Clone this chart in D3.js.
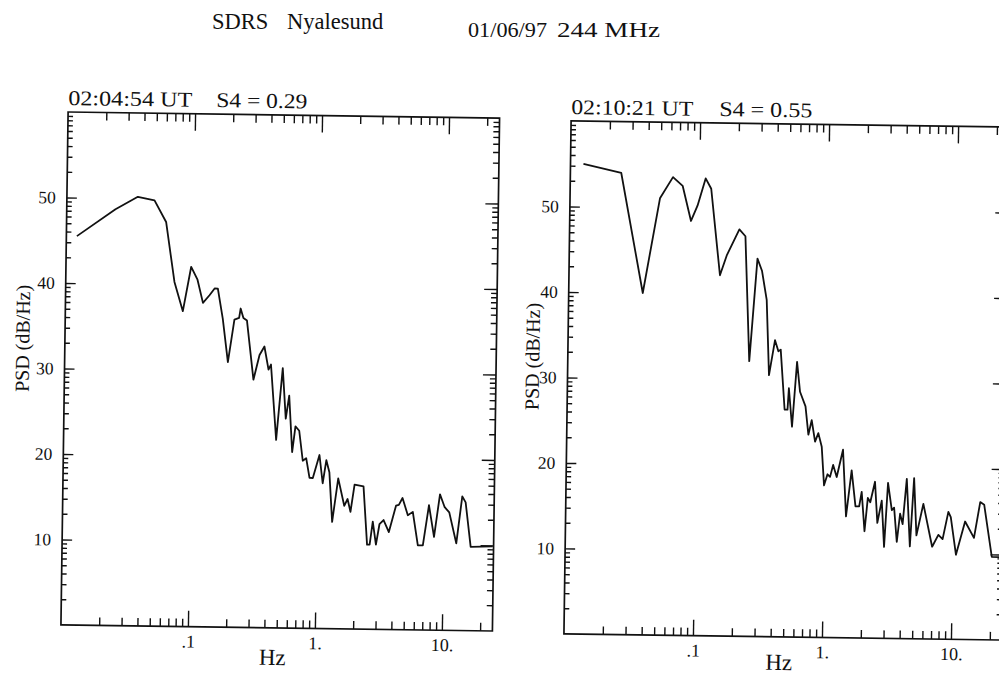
<!DOCTYPE html>
<html><head><meta charset="utf-8">
<script src="https://cdn.jsdelivr.net/npm/d3@7"></script>
<style>
html,body{margin:0;padding:0;background:#fff;}
svg{display:block;}
text{font-family:"Liberation Serif","DejaVu Serif",serif;fill:#111;}
</style></head><body>
<svg id="chart" width="999" height="674"></svg>
<script>
// ---------- data ----------
const leftFreq = [0.0121,0.0242,0.0362,0.049,0.0608,0.0718,0.0842,0.0969,0.109,0.121,0.136,0.149,0.158,0.174,0.193,0.215,0.234,0.240,0.253,0.270,0.308,0.342,0.373,0.404,0.422,0.472,0.523,0.559,0.592,0.633,0.668,0.716,0.769,0.818,0.873,0.927,1.04,1.11,1.18,1.25,1.33,1.47,1.65,1.75,1.85,1.98,2.33,2.52,2.64,2.78,2.96,3.14,3.38,3.73,4.22,4.44,4.74,5.24,5.73,6.33,6.93,7.67,8.47,9.34,10.2,11.1,12.7,14.0,14.9,16.5,24.5];
const leftPsd = [45.5,48.7,50.2,49.8,47.3,40.3,36.9,42.1,40.6,37.9,38.8,39.6,39.6,36.1,31.0,36.0,36.2,37.3,36.2,35.9,29.0,31.9,32.9,30.2,30.8,22.0,30.4,24.5,27.2,20.6,23.6,23.1,19.6,19.9,17.6,17.6,20.3,17.0,19.7,18.3,12.5,17.6,14.4,15.2,13.7,16.9,16.7,9.9,9.9,12.6,9.9,12.3,12.8,11.4,14.5,14.6,15.4,13.4,13.8,9.9,9.9,14.6,10.9,15.9,14.4,13.8,10.2,15.7,15.0,9.8,9.9];
const rightFreq = [0.0126,0.0248,0.0375,0.0498,0.0625,0.0744,0.0871,0.0975,0.112,0.124,0.148,0.167,0.207,0.231,0.255,0.288,0.313,0.343,0.364,0.402,0.428,0.446,0.485,0.511,0.521,0.556,0.599,0.636,0.704,0.746,0.789,0.842,0.891,0.950,0.999,1.06,1.11,1.17,1.25,1.39,1.49,1.63,1.76,1.88,1.96,2.08,2.19,2.29,2.48,2.61,2.81,2.96,3.13,3.37,3.51,3.71,3.91,4.10,4.37,4.69,4.98,5.26,5.91,6.98,7.78,8.40,9.25,9.67,10.7,12.5,14.7,16.3,17.5,20.3,24.5];
const rightPsd = [55.0,54.0,40.0,51.1,53.6,52.6,48.5,50.3,53.5,52.3,42.2,44.6,47.6,46.8,32.2,44.2,42.8,39.4,30.6,34.7,33.4,33.6,26.6,26.6,29.1,24.6,32.2,28.7,27.0,23.7,25.4,22.9,23.9,22.3,17.8,19.1,18.8,20.2,18.8,22.0,14.2,19.6,15.4,15.4,17.1,12.5,16.4,15.9,18.3,13.5,16.1,10.7,18.2,15.0,15.3,11.3,14.6,13.4,18.7,10.8,18.8,12.1,15.8,10.8,12.2,11.7,14.9,14.3,9.9,13.8,11.9,16.1,15.8,9.7,9.7];

const xDomain = [0.01, 25];
const yDomain = [0, 60];
const xMajorTicks = [0.1, 1, 10];
const xTickLabels = [".1", "1.", "10."];
const yTickValues = [10, 20, 30, 40, 50];
const yTickLabels = ["10", "20", "30", "40", "50"];
const mainTitleLeft = ["SDRS", "Nyalesund"];
const mainTitleRight = ["01/06/97", "244 MHz"];
const panelTimes = ["02:04:54 UT", "02:10:21 UT"];
const panelS4 = ["S4 = 0.29", "S4 = 0.55"];
const yAxisTitle = "PSD (dB/Hz)";
const xAxisTitle = "Hz";

// ---------- layout ----------
const tilt = 0.8;
const panels = [
  {x0: 64.5, x1: 496, yt: 115, yb: 628, cx: 280.25, cy: 371.5, freq: leftFreq, psd: leftPsd,
   time: panelTimes[0], s4: panelS4[0], timeLen: 124, s4Off: 148, s4Len: 91, ylabX: 22, ylabY: 342, hzDy: 37},
  {x0: 567.5, x1: 1005.9, yt: 124, yb: 637, cx: 786.7, cy: 380.5, freq: rightFreq, psd: rightPsd,
   time: panelTimes[1], s4: panelS4[1], timeLen: 122, s4Off: 148, s4Len: 93, ylabX: 532, ylabY: 360, hzDy: 33}
];

const svg = d3.select("#chart");
const ink = "#111";

// main title
svg.append("text").attr("x", 212).attr("y", 28.5).attr("font-size", 22.5).text(mainTitleLeft[0]);
svg.append("text").attr("x", 287).attr("y", 28.5).attr("font-size", 22.5).text(mainTitleLeft[1]);
svg.append("text").attr("x", 468).attr("y", 36.5).attr("font-size", 22).attr("textLength", 79).attr("lengthAdjust","spacingAndGlyphs").text(mainTitleRight[0]);
svg.append("text").attr("x", 557).attr("y", 36.5).attr("font-size", 22).attr("textLength", 103).attr("lengthAdjust","spacingAndGlyphs").text(mainTitleRight[1]);

// minor tick values
const xMinor = [];
[0.01, 0.1, 1, 10].forEach(d => { for (let k = 2; k <= 9; k++) { const v = +(k * d).toPrecision(3); if (v <= xDomain[1]) xMinor.push(v); } });
const yMinor = [];
for (let b = 0; b < 60; b += 10) for (let k = 2; k <= 9; k++) yMinor.push(b + 10 * Math.log10(k));

panels.forEach(p => {
  const g = svg.append("g").attr("transform", `rotate(${tilt},${p.cx},${p.cy})`);
  const x = d3.scaleLog().domain(xDomain).range([p.x0, p.x1]);
  const y = d3.scaleLinear().domain(yDomain).range([p.yb, p.yt]);

  const styleAxis = sel => {
    sel.select(".domain").remove();
    sel.selectAll(".tick line").attr("stroke", ink).attr("stroke-width", 1.4);
  };

  // bottom
  g.append("g").attr("transform", `translate(0,${p.yb})`)
    .call(d3.axisBottom(x).tickValues(xMinor).tickSize(-8).tickFormat("")).call(styleAxis);
  const bMaj = g.append("g").attr("transform", `translate(0,${p.yb})`)
    .call(d3.axisBottom(x).tickValues(xMajorTicks).tickSize(-16).tickPadding(8)
      .tickFormat((d, i) => xTickLabels[i])).call(styleAxis);
  bMaj.attr("font-family", null);
  bMaj.selectAll(".tick text").attr("font-family", "Liberation Serif, serif").attr("font-size", 18).attr("fill", ink);

  // top
  g.append("g").attr("transform", `translate(0,${p.yt})`)
    .call(d3.axisTop(x).tickValues(xMinor).tickSize(-8).tickFormat("")).call(styleAxis);
  g.append("g").attr("transform", `translate(0,${p.yt})`)
    .call(d3.axisTop(x).tickValues(xMajorTicks).tickSize(-17).tickFormat("")).call(styleAxis);

  // left
  g.append("g").attr("transform", `translate(${p.x0},0)`)
    .call(d3.axisLeft(y).tickValues(yMinor).tickSize(-5).tickFormat("")).call(styleAxis);
  const lMaj = g.append("g").attr("transform", `translate(${p.x0},0)`)
    .call(d3.axisLeft(y).tickValues(yTickValues).tickSize(-10).tickPadding(11)
      .tickFormat((d, i) => yTickLabels[i])).call(styleAxis);
  lMaj.attr("font-family", null);
  lMaj.selectAll(".tick text").attr("font-family", "Liberation Serif, serif").attr("font-size", 17.5).attr("fill", ink);

  // right
  g.append("g").attr("transform", `translate(${p.x1},0)`)
    .call(d3.axisRight(y).tickValues(yMinor).tickSize(-6).tickFormat("")).call(styleAxis);
  g.append("g").attr("transform", `translate(${p.x1},0)`)
    .call(d3.axisRight(y).tickValues(yTickValues).tickSize(-13).tickFormat("")).call(styleAxis);

  // frame
  g.append("rect").attr("x", p.x0).attr("y", p.yt).attr("width", p.x1 - p.x0).attr("height", p.yb - p.yt)
    .attr("fill", "none").attr("stroke", ink).attr("stroke-width", 1.7);

  // data
  const data = p.freq.map((f, i) => ({f, v: p.psd[i]}));
  g.append("path").datum(data)
    .attr("fill", "none").attr("stroke", ink).attr("stroke-width", 1.8).attr("stroke-linejoin", "round")
    .attr("d", d3.line().x(d => x(d.f)).y(d => y(d.v)));

  // titles
  g.append("text").attr("x", p.x0).attr("y", p.yt - 7).attr("font-size", 21)
    .attr("textLength", p.timeLen).attr("lengthAdjust", "spacingAndGlyphs").text(p.time);
  g.append("text").attr("x", p.x0 + p.s4Off).attr("y", p.yt - 7).attr("font-size", 21)
    .attr("textLength", p.s4Len).attr("lengthAdjust", "spacingAndGlyphs").text(p.s4);

  g.append("text").attr("x", (p.x0 + p.x1) / 2 - 4).attr("y", p.yb + p.hzDy).attr("font-size", 23)
    .attr("text-anchor", "middle").text(xAxisTitle);

  g.append("text").attr("transform", `translate(${p.ylabX},${p.ylabY}) rotate(-90)`)
    .attr("font-size", 20).attr("text-anchor", "middle").attr("dy", "0.35em").text(yAxisTitle);
});
</script>
</body></html>
